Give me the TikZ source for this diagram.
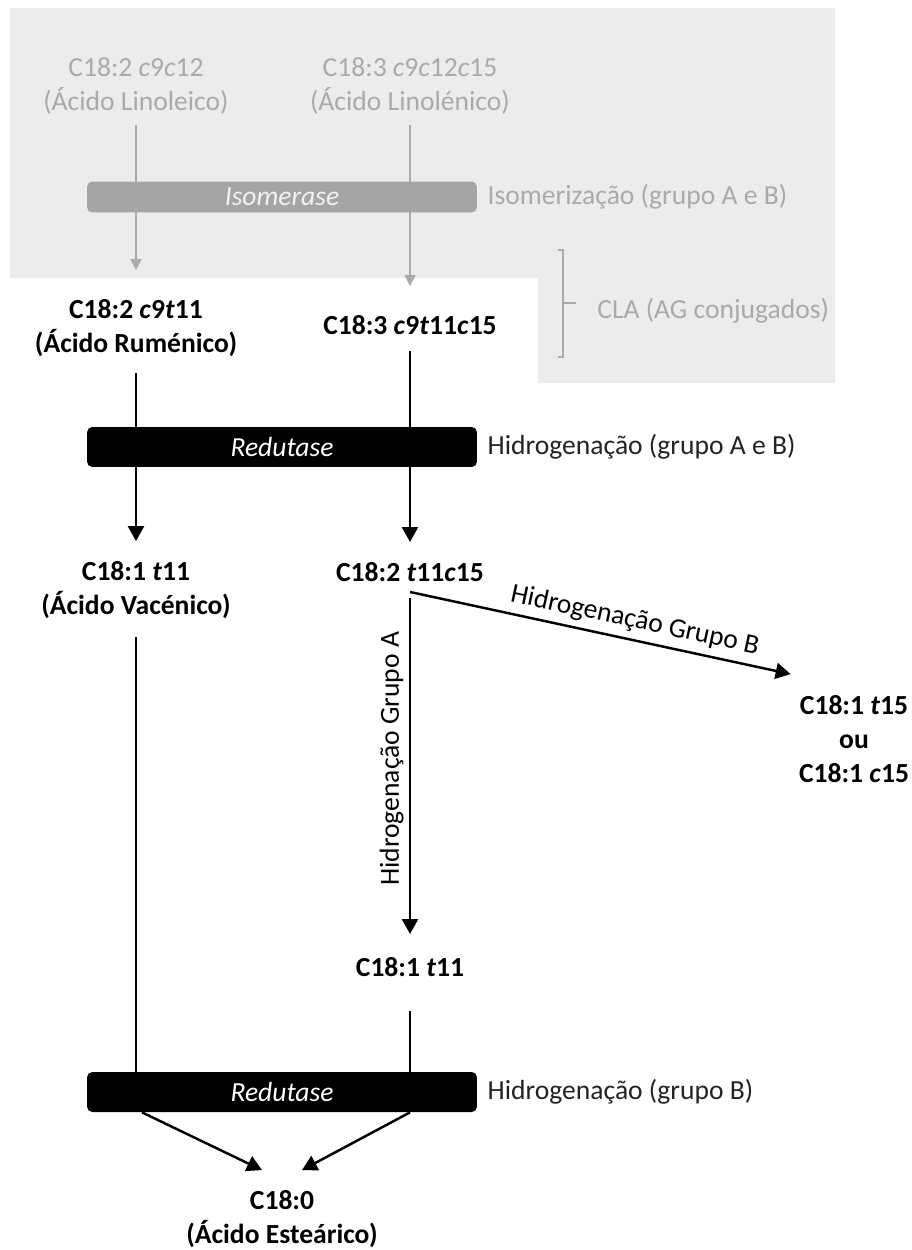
\documentclass[tikz,border=0pt]{standalone}
\usepackage{fontspec}
\setmainfont{Carlito}
\usetikzlibrary{arrows.meta,positioning,calc}
\definecolor{panelbg}{RGB}{236,236,236}
\definecolor{fadegray}{RGB}{170,170,170}
\definecolor{isofill}{RGB}{165,165,165}
\definecolor{isotext}{RGB}{242,242,242}
\definecolor{notetext}{RGB}{35,35,35}
\pgfdeclarelayer{back}
\pgfsetlayers{back,main}

\begin{document}
\begin{tikzpicture}[
    x=0.02cm, y=-0.02cm,
    every node/.style = {font=\fontsize{15.7}{19.3}\selectfont},
    acid/.style     = {align=center, inner xsep=0pt, inner ysep=0.2cm,
                       font=\fontsize{15.7}{19.3}\selectfont\bfseries},
    fadeacid/.style = {align=center, inner xsep=0pt, inner ysep=0.2cm, text=fadegray},
    enzbar/.style   = {rectangle, fill=black, minimum width=7.8cm, minimum height=0.8cm,
                       rounded corners=3pt, text=white,
                       font=\fontsize{15.7}{19.3}\selectfont\itshape},
    isobar/.style   = {enzbar, fill=isofill, minimum height=0.62cm, text=isotext},
    note/.style     = {inner sep=0pt, anchor=west, text=notetext},
    arr/.style      = {-{Triangle[length=0.3cm, width=0.32cm]}, line width=1.4pt,
                       shorten <=0.12cm, shorten >=0.2cm},
    garr/.style     = {-{Triangle[length=0.22cm, width=0.22cm]}, line width=0.9pt,
                       draw=fadegray, fill=fadegray},
    link/.style     = {line width=1.4pt},
    brace/.style    = {line width=0.9pt, draw=fadegray}
  ]
    \useasboundingbox (0,0) rectangle (912,1250);

    % precursores (isomerizacao)
    \node[fadeacid] (linol)  at (136,86) {C18:2 \textit{c}9\textit{c}12\\(Ácido Linoleico)};
    \node[fadeacid] (linoln) at (410,86) {C18:3 \textit{c}9\textit{c}12\textit{c}15\\(Ácido Linolénico)};
    \node[isobar] (iso) at (282,197) {Isomerase};
    \node[note, text=fadegray, right=0.2cm of iso] (isonote) {Isomerização (grupo A e B)};

    % CLA
    \node[acid] (rum)  at (136,328) {C18:2 \textit{c}9\textit{t}11\\(Ácido Ruménico)};
    \node[acid] (cla3) at (410,325) {C18:3 \textit{c}9\textit{t}11\textit{c}15};
    \node[note, text=fadegray] (cla) at (597,311) {CLA (AG conjugados)};

    \node[enzbar] (red1) at (282,447) {Redutase};
    \node[note, right=0.2cm of red1] (hidab) {Hidrogenação (grupo A e B)};

    \node[acid] (vac)    at (136,590) {C18:1 \textit{t}11\\(Ácido Vacénico)};
    \node[acid] (t11c15) at (410,572) {C18:2 \textit{t}11\textit{c}15};
    \node[acid] (t15)    at (854,739) {C18:1 \textit{t}15\\ou\\C18:1 \textit{c}15};
    \node[acid] (t11)    at (410,967) {C18:1 \textit{t}11};

    \node[enzbar] (red2) at (282,1092) {Redutase};
    \node[note, right=0.2cm of red2] (hidb) {Hidrogenação (grupo B)};

    \node[acid] (est) at (282,1219) {C18:0\\(Ácido Esteárico)};

    \begin{pgfonlayer}{back}
      \fill[panelbg] (10,8) -- (835,8) -- (835,383) -- (538,383) -- (538,278)
                     -- (10,278) -- cycle;
      \draw[garr, shorten >=0.38cm] (linol) -- (rum);
      \draw[garr, shorten >=0.38cm] (linoln) -- (cla3);
      \draw[arr] (rum)  -- (vac);
      \draw[arr] (cla3) -- (t11c15);
      \draw[link, shorten <=0.16cm] (vac) -- (vac |- red2);
      \draw[link, shorten <=0.48cm] (t11) -- (t11 |- red2);
    \end{pgfonlayer}

    % chaveta CLA
    \draw[brace] (558,250) -- (563,250) -- (563,357) -- (558,357);
    \draw[brace] (563,303) -- (576,303);

    \draw[arr, shorten >=0.26cm] (t11c15) -- node[pos=0.47, rotate=90, anchor=south,
        inner sep=3pt, font=\fontsize{15.7}{19.3}\selectfont] {Hidrogenação Grupo A} (t11);
    \draw[arr, shorten <=0pt, shorten >=0pt] (t11c15.south)
        -- node[pos=0.58, sloped, above, inner sep=3.5pt] {Hidrogenação Grupo B}
        ($(t15.north west)+(-8,-11)$);

    \draw[arr, shorten <=0pt, shorten >=0pt] ($(vac |- red2.south)+(6,0)$)
        -- ($(est.north)+(-20,-10)$);
    \draw[arr, shorten <=0pt, shorten >=0pt] (t11 |- red2.south)
        -- ($(est.north)+(20,-10)$);
  \end{tikzpicture}
\end{document}
